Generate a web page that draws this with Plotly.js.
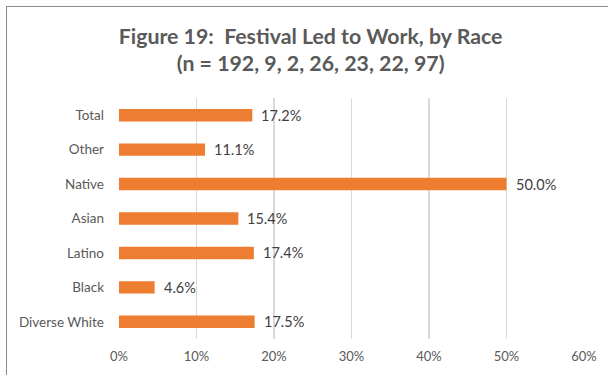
<!DOCTYPE html>
<html>
<head>
<meta charset="utf-8">
<script src="https://cdn.plot.ly/plotly-3.0.1.min.js"></script>
<style>
html, body { margin: 0; padding: 0; background: #fff; }
#frame { position: absolute; left: 6px; top: 6px; width: 602px; height: 369px; border-left: 1.5px solid #8c8c8c; border-top: 1.5px solid #8c8c8c; box-sizing: border-box; }
#chart { position: absolute; left: 0; top: 0; width: 600px; height: 367px; }
</style>
</head>
<body>
<div id="frame"><div id="chart"></div></div>
<script>
const categories = ["Total", "Other", "Native", "Asian", "Latino", "Black", "Diverse White"];
const values = [0.172, 0.111, 0.500, 0.154, 0.174, 0.046, 0.175];
const labels = ["17.2%", "11.1%", "50.0%", "15.4%", "17.4%", "4.6%", "17.5%"];
const xTickVals = [0, 0.1, 0.2, 0.3, 0.4, 0.5, 0.6];
const xTickText = ["0%", "10%", "20%", "30%", "40%", "50%", "60%"];

const trace = {
  type: "bar",
  orientation: "h",
  y: categories,
  x: values,
  marker: { color: "#ED7D31" },
  width: 0.36,
  hoverinfo: "none"
};

const annotations = categories.map((c, i) => ({
  x: values[i], y: c, xref: "x", yref: "y",
  text: labels[i], showarrow: false, xanchor: "left", yanchor: "middle",
  xshift: 7,
  font: { family: "Lato, 'Open Sans', sans-serif", size: 14.5, color: "#404040" }
}));

const layout = {
  width: 600, height: 367,
  margin: { l: 112, r: 23, t: 91, b: 35 },
  paper_bgcolor: "#fff", plot_bgcolor: "#fff",
  showlegend: false,
  title: {
    text: "<b>Figure 19:  Festival Led to Work, by Race<br>(n = 192, 9, 2, 26, 23, 22, 97)</b>",
    font: { family: "Lato, 'Open Sans', sans-serif", size: 21.3, color: "#595959" },
    x: 0.506, xanchor: "center", y: 0.9, yanchor: "top"
  },
  xaxis: {
    range: [0, 0.6],
    tickvals: xTickVals, ticktext: xTickText,
    showgrid: true, gridcolor: "#d9d9d9", gridwidth: 1.3,
    zeroline: false, showline: false, ticks: "",
    ticklabelstandoff: 8,
    tickfont: { family: "Lato, 'Open Sans', sans-serif", size: 13, color: "#595959" },
    fixedrange: true
  },
  yaxis: {
    autorange: "reversed",
    showgrid: false, zeroline: false, showline: false, ticks: "",
    ticklabelstandoff: 14,
    tickfont: { family: "Lato, 'Open Sans', sans-serif", size: 13.5, color: "#595959" },
    fixedrange: true
  },
  annotations: annotations
};

Plotly.newPlot("chart", [trace], layout, { displayModeBar: false, staticPlot: true });
</script>
</body>
</html>
